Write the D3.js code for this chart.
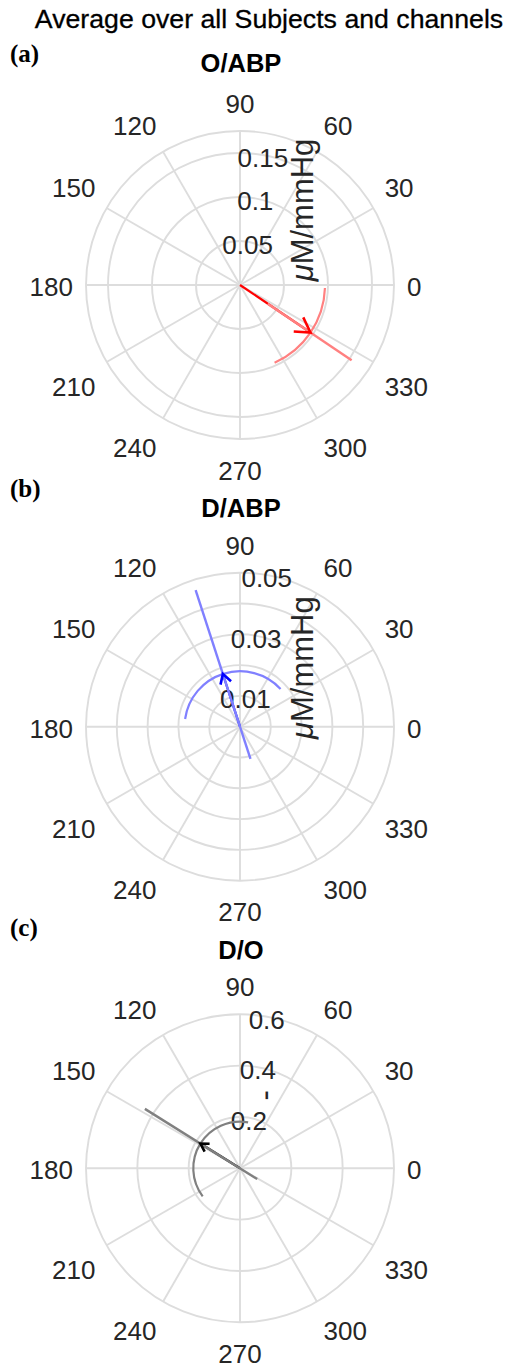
<!DOCTYPE html>
<html><head><meta charset="utf-8">
<script src="https://cdn.jsdelivr.net/npm/d3@7"></script>
<style>body{margin:0;background:#fff;}svg{display:block;}</style>
</head><body>
<svg id="chart" width="508" height="1369"></svg>
<script>
// ---------- data ----------
const figTitle = "Average over all Subjects and channels";
const panelTags = ["(a)", "(b)", "(c)"];
const panelTitles = ["O/ABP", "D/ABP", "D/O"];
const rUnits = ["\u03bc|M/mmHg", "\u03bc|M/mmHg", "|-"];
const rMax = [0.175, 0.05, 0.6];
const rGrid = [[0.05, 0.1, 0.15, 0.175], [0.01, 0.02, 0.03, 0.04, 0.05], [0.2, 0.4, 0.6]];
const rTickValues = [[0.05, 0.1, 0.15], [0.01, 0.03, 0.05], [0.2, 0.4, 0.6]];
const rTickLabels = [["0.05", "0.1", "0.15"], ["0.01", "0.03", "0.05"], ["0.2", "0.4", "0.6"]];
const thetaTicks = [0, 30, 60, 90, 120, 150, 180, 210, 240, 270, 300, 330];
const meanPhase = [-34, 108, 148];     // degrees
const meanMag = [0.0966, 0.018, 0.182];
const phaseLo = [-66, 43, 80];
const phaseHi = [-2, 172, 217];
const magLo = [0.038, -0.011, -0.079];
const magHi = [0.153, 0.0466, 0.437];
const darkColors = ["#ff0000", "#0000ff", "#000000"];
const lightColors = ["#ff8080", "#8080ff", "#808080"];

// ---------- layout ----------
const W = 508, H = 1369, R = 154;
const centers = [[240, 285], [240, 726.7], [240, 1168.3]];
const titleY = [72, 517, 959];
const tagY = [62, 497, 936];
const unitPos = [[313, -75], [313, -59], [275, -73]];
const font = "'Liberation Sans', Arial, Helvetica, sans-serif";

const svg = d3.select("#chart");
svg.append("rect").attr("width", W).attr("height", H).attr("fill", "#fff");

svg.append("text").attr("x", 269).attr("y", 28).attr("text-anchor", "middle")
  .attr("font-family", font).attr("font-size", 26.7).attr("fill", "#000")
  .attr("stroke", "#000").attr("stroke-width", 0.3).text(figTitle);

const toRad = d3.scaleLinear().domain([0, 180]).range([0, Math.PI]);

panelTags.forEach((tag, i) => {
  const [cx, cy] = centers[i];
  const r = d3.scaleLinear().domain([0, rMax[i]]).range([0, R]);
  const pt = (mag, deg) => [cx + r(mag) * Math.cos(toRad(deg)), cy - r(mag) * Math.sin(toRad(deg))];
  const g = svg.append("g");

  // tag & title
  svg.append("text").attr("x", 10).attr("y", tagY[i])
    .attr("font-family", "'Liberation Serif', 'Times New Roman', serif").attr("font-weight", "bold")
    .attr("font-size", 25).attr("fill", "#000").text(tag);
  svg.append("text").attr("x", cx + 1).attr("y", titleY[i]).attr("text-anchor", "middle")
    .attr("font-family", font).attr("font-weight", "bold").attr("font-size", 25.5)
    .attr("fill", "#000").text(panelTitles[i]);

  // grid circles
  g.selectAll("circle.grid").data(rGrid[i]).join("circle")
    .attr("cx", cx).attr("cy", cy).attr("r", d => r(d))
    .attr("fill", "none").attr("stroke", "#dddddd").attr("stroke-width", 1.9);
  // spokes
  g.selectAll("line.spoke").data(thetaTicks).join("line")
    .attr("x1", cx).attr("y1", cy)
    .attr("x2", d => pt(rMax[i], d)[0]).attr("y2", d => pt(rMax[i], d)[1])
    .attr("stroke", "#dddddd").attr("stroke-width", 1.9);

  // theta labels
  const lr = 167 / R * rMax[i];
  g.selectAll("text.theta").data(thetaTicks).join("text")
    .attr("font-family", font).attr("font-size", 26).attr("fill", "#262626")
    .attr("text-anchor", d => {
      const c = Math.cos(toRad(d));
      return c > 0.01 ? "start" : (c < -0.01 ? "end" : "middle");
    })
    .attr("x", d => pt(lr, d)[0])
    .attr("y", d => {
      const s = Math.sin(toRad(d)), y = pt(lr, d)[1];
      return s > 0.01 ? y - 5 : (s < -0.01 ? y + 27.5 : y + 11);
    })
    .text(d => d);

  // r tick labels at 80 deg
  g.selectAll("text.rtick").data(rTickValues[i]).join("text")
    .attr("font-family", font).attr("font-size", 26).attr("fill", "#262626")
    .attr("text-anchor", "middle")
    .attr("x", d => pt(d, 80)[0]).attr("y", d => pt(d, 80)[1] + 12)
    .text((d, k) => rTickLabels[i][k]);

  // r axis unit label (rotated)
  const [ux, uy] = unitPos[i];
  const parts = rUnits[i].split("|");
  const ut = g.append("text").attr("font-family", font).attr("font-size", 31).attr("fill", "#262626")
    .attr("text-anchor", "middle")
    .attr("transform", `translate(${ux},${cy + uy}) rotate(-90)`);
  if (parts[0]) ut.append("tspan").attr("font-style", "italic").text(parts[0]);
  ut.append("tspan").text(parts[1]);

  // dark shaft centre -> mean
  const tip = pt(meanMag[i], meanPhase[i]);
  g.append("line").attr("x1", cx).attr("y1", cy).attr("x2", tip[0]).attr("y2", tip[1])
    .attr("stroke", darkColors[i]).attr("stroke-width", 2.2);
  // magnitude CI line
  const lo = pt(magLo[i], meanPhase[i]), hi = pt(magHi[i], meanPhase[i]);
  g.append("line").attr("x1", lo[0]).attr("y1", lo[1]).attr("x2", hi[0]).attr("y2", hi[1])
    .attr("stroke", lightColors[i]).attr("stroke-width", 2.4);
  // phase CI arc
  const p = d3.path();
  const a0 = -toRad(phaseLo[i]), a1 = -toRad(phaseHi[i]);
  p.arc(cx, cy, r(meanMag[i]), a0, a1, true);
  g.append("path").attr("d", p.toString()).attr("fill", "none")
    .attr("stroke", lightColors[i]).attr("stroke-width", 2.2);
  // arrow head (compass-style, relative to arrow length)
  const wing = s => {
    const zr = 0.83, zi = 0.1 * s;
    const mag = meanMag[i] * Math.hypot(zr, zi);
    const ang = meanPhase[i] + Math.atan2(zi, zr) * 180 / Math.PI;
    return pt(mag, ang);
  };
  const w1 = wing(1), w2 = wing(-1);
  g.append("path").attr("d", d3.line()([w1, tip, w2])).attr("fill", "none")
    .attr("stroke", darkColors[i]).attr("stroke-width", 2.6).attr("stroke-linejoin", "miter");
});
</script>
</body></html>
